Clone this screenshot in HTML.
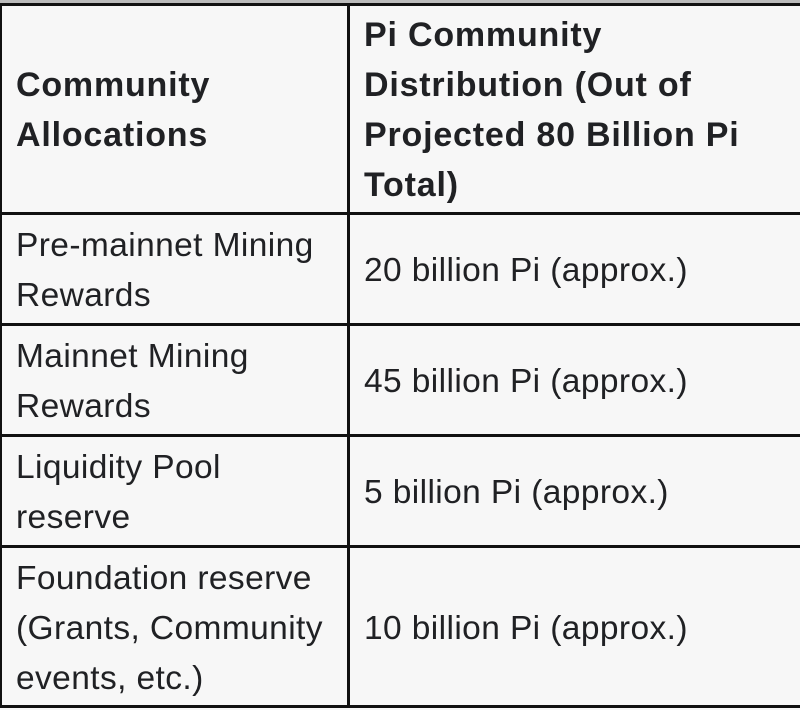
<!DOCTYPE html>
<html><head><meta charset="utf-8"><style>
html,body{margin:0;padding:0;}
body{width:800px;height:710px;background:#f7f7f7;position:relative;overflow:hidden;font-family:"Liberation Sans",Arial,sans-serif;color:#202124;}
.h{position:absolute;background:#111;height:3px;left:0;width:800px;}
.v{position:absolute;background:#111;width:3px;}
.t{position:absolute;font-size:33.5px;line-height:50px;white-space:nowrap;letter-spacing:0.4px;}
.b{font-weight:bold;font-size:34px;letter-spacing:0.8px;}
</style></head><body>
<div style="position:absolute;left:0;top:0;width:800px;height:3px;background:#bbb"></div>
<div class="h" style="top:3px"></div>
<div class="h" style="top:212px"></div>
<div class="h" style="top:323px"></div>
<div class="h" style="top:434px"></div>
<div class="h" style="top:545px"></div>
<div class="h" style="top:705px"></div>
<div class="v" style="left:0;top:3px;height:705px;width:2px"></div>
<div class="v" style="left:347px;top:3px;height:705px"></div>

<div class="t b" style="left:16px;top:60px">Community</div>
<div class="t b" style="left:16px;top:110px">Allocations</div>
<div class="t b" style="left:364px;top:10px">Pi Community</div>
<div class="t b" style="left:364px;top:60px">Distribution (Out of</div>
<div class="t b" style="left:364px;top:110px">Projected 80 Billion Pi</div>
<div class="t b" style="left:364px;top:160px">Total)</div>

<div class="t" style="left:16px;top:221px">Pre-mainnet Mining</div>
<div class="t" style="left:16px;top:271px">Rewards</div>
<div class="t" style="left:364px;top:246px">20 billion Pi (approx.)</div>

<div class="t" style="left:16px;top:332px">Mainnet Mining</div>
<div class="t" style="left:16px;top:382px">Rewards</div>
<div class="t" style="left:364px;top:357px">45 billion Pi (approx.)</div>

<div class="t" style="left:16px;top:443px">Liquidity Pool</div>
<div class="t" style="left:16px;top:493px">reserve</div>
<div class="t" style="left:364px;top:468px">5 billion Pi (approx.)</div>

<div class="t" style="left:16px;top:554px">Foundation reserve</div>
<div class="t" style="left:16px;top:604px">(Grants, Community</div>
<div class="t" style="left:16px;top:654px">events, etc.)</div>
<div class="t" style="left:364px;top:604px">10 billion Pi (approx.)</div>
</body></html>
